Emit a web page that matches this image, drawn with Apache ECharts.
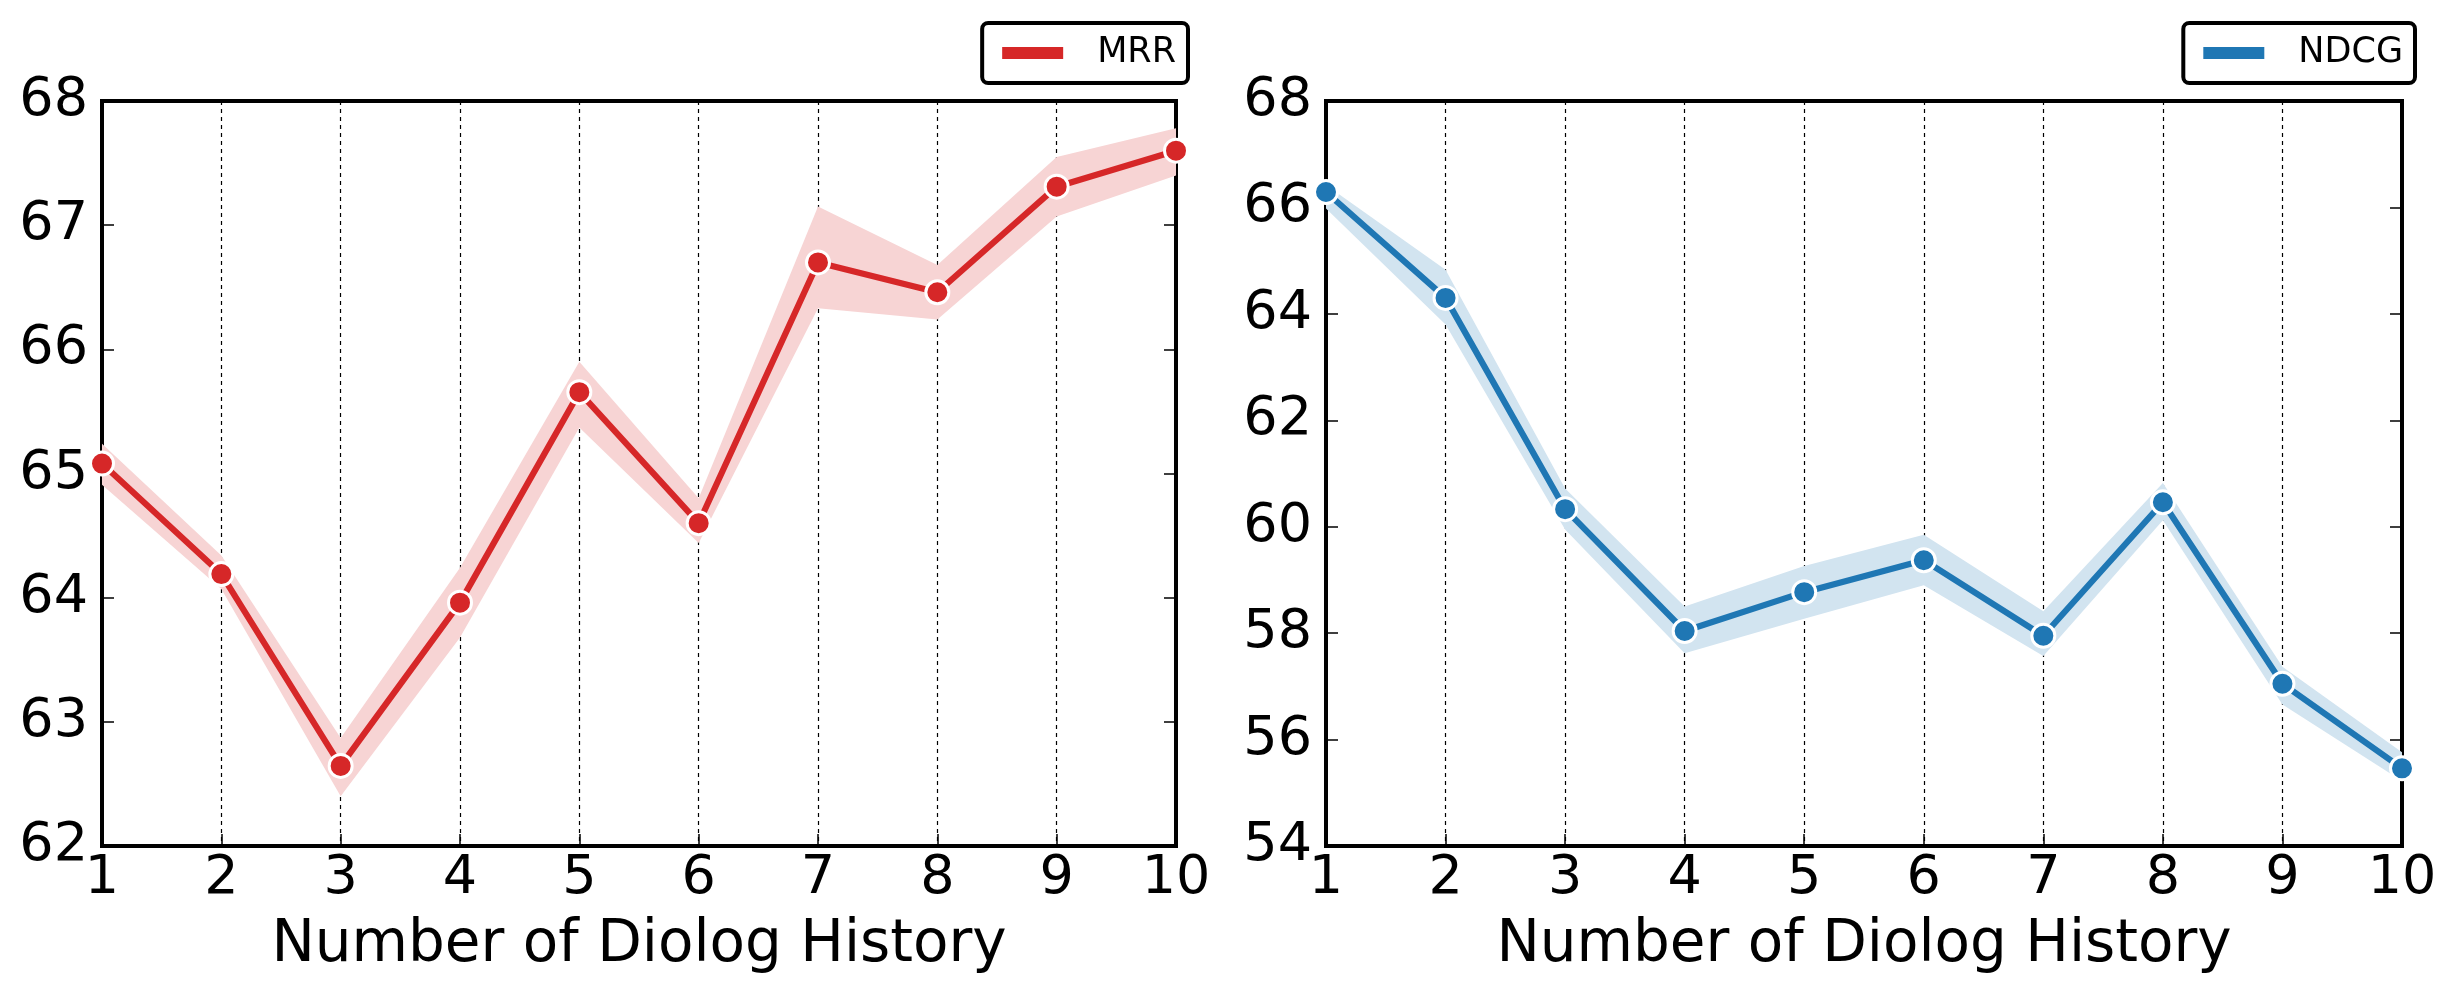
<!DOCTYPE html>
<html>
<head>
<meta charset="utf-8">
<script src="https://cdn.jsdelivr.net/npm/echarts@6/dist/echarts.min.js"></script>
<style>
html,body{margin:0;padding:0;background:#fff;}
#chart{width:2452px;height:997px;}
</style>
</head>
<body>
<div id="chart"></div>
<script>
const xLabels = ['1','2','3','4','5','6','7','8','9','10'];
const xAxisTitle = 'Number of Diolog History';

const mrr      = [65.08, 64.19, 62.645, 63.96, 65.655, 64.60, 66.70, 66.46, 67.31, 67.60];
const mrrUpper = [65.24, 64.34, 62.87, 64.24, 65.90, 64.80, 67.15, 66.68, 67.55, 67.78];
const mrrLower = [64.91, 64.07, 62.40, 63.68, 65.37, 64.44, 66.33, 66.24, 67.07, 67.40];

const ndcg      = [66.29, 64.30, 60.33, 58.04, 58.77, 59.37, 57.95, 60.46, 57.05, 55.46];
const ndcgUpper = [66.42, 64.83, 60.72, 58.50, 59.26, 59.85, 58.41, 60.82, 57.37, 55.76];
const ndcgLower = [65.98, 63.80, 59.95, 57.62, 58.27, 58.90, 57.57, 60.12, 56.66, 55.22];

const mrrTicks  = {min: 62, max: 68, interval: 1};
const ndcgTicks = {min: 54, max: 68, interval: 2};

const FONT = 'DejaVu Sans';

function xAxisFor(i) {
  return {
    gridIndex: i, type: 'category', data: xLabels, boundaryGap: false,
    axisLine: {show: false},
    axisTick: {show: true, inside: true, length: 12, lineStyle: {color: '#000', width: 1.5}},
    axisLabel: {fontSize: 54, color: '#000', fontFamily: FONT, margin: 6},
    splitLine: {show: true, lineStyle: {color: '#000', width: 1.2, type: [4, 4]}},
    name: xAxisTitle, nameLocation: 'middle', nameGap: 71,
    nameTextStyle: {fontSize: 58, color: '#000', fontFamily: FONT}
  };
}
function yAxisFor(i, t, showLabel, pos) {
  return {
    gridIndex: i, type: 'value', min: t.min, max: t.max, interval: t.interval, position: pos,
    axisLine: {show: false},
    axisTick: {show: true, inside: true, length: 12, lineStyle: {color: '#000', width: 1.5}},
    axisLabel: {show: showLabel, fontSize: 54, color: '#000', fontFamily: FONT, margin: 14},
    splitLine: {show: false}
  };
}
function bandSeries(idx, lower, upper, color, key) {
  return [
    {name: key + 'Low', type: 'line', xAxisIndex: idx, yAxisIndex: idx * 2, data: lower, stack: key,
     symbol: 'none', lineStyle: {opacity: 0}, silent: true, z: 1},
    {name: key + 'Band', type: 'line', xAxisIndex: idx, yAxisIndex: idx * 2,
     data: upper.map((u, j) => +(u - lower[j]).toFixed(4)), stack: key,
     symbol: 'none', lineStyle: {opacity: 0}, areaStyle: {color: color, opacity: 1}, silent: true, z: 1}
  ];
}
function mainSeries(idx, name, data, color) {
  return {
    name: name, type: 'line', xAxisIndex: idx, yAxisIndex: idx * 2, data: data,
    color: color, symbol: 'circle', symbolSize: 23, showSymbol: true,
    lineStyle: {color: color, width: 6.2},
    itemStyle: {color: color, borderColor: '#fff', borderWidth: 3},
    z: 3
  };
}
function legendFor(name, right) {
  return {
    data: [name], right: right, top: 23, orient: 'horizontal',
    borderColor: '#000', borderWidth: 4, borderRadius: 6,
    padding: [10, 12, 10, 20],
    icon: 'rect', itemWidth: 61, itemHeight: 12,
    itemStyle: {borderWidth: 0},
    textStyle: {fontSize: 35, color: '#000', fontFamily: FONT, padding: [0, 0, 0, 29], lineHeight: 40}
  };
}

const chart = echarts.init(document.getElementById('chart'), null, {renderer: 'canvas'});
chart.setOption({
  animation: false,
  backgroundColor: '#fff',
  grid: [
    {left: 102, top: 101, width: 1074, height: 745, show: true, borderColor: '#000', borderWidth: 4, backgroundColor: 'transparent'},
    {left: 1326, top: 101, width: 1076, height: 745, show: true, borderColor: '#000', borderWidth: 4, backgroundColor: 'transparent'}
  ],
  xAxis: [xAxisFor(0), xAxisFor(1)],
  yAxis: [
    yAxisFor(0, mrrTicks, true, 'left'), yAxisFor(0, mrrTicks, false, 'right'),
    yAxisFor(1, ndcgTicks, true, 'left'), yAxisFor(1, ndcgTicks, false, 'right')
  ],
  legend: [legendFor('MRR', 1264), legendFor('NDCG', 37)],
  series: [
    ...bandSeries(0, mrrLower, mrrUpper, '#f7d4d4', 'mrr'),
    mainSeries(0, 'MRR', mrr, '#d62728'),
    ...bandSeries(1, ndcgLower, ndcgUpper, '#d2e4f0', 'ndcg'),
    mainSeries(1, 'NDCG', ndcg, '#1f77b4')
  ]
});
</script>
</body>
</html>
